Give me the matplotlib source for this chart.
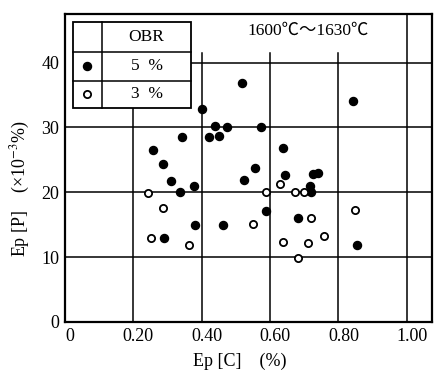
import matplotlib
matplotlib.use("Agg")
import matplotlib.pyplot as plt
from matplotlib.transforms import ScaledTranslation
from matplotlib.patches import Rectangle

plt.rcParams['font.family'] = ['Liberation Serif', 'DejaVu Serif', 'Noto Sans CJK JP']
plt.rcParams['mathtext.fontset'] = 'stix'

# OBR 5 % (filled)
c5 = [0.40, 0.438, 0.473, 0.42, 0.45, 0.342, 0.257, 0.287, 0.31, 0.378, 0.336, 0.29,
      0.381, 0.461, 0.524, 0.555, 0.517, 0.573, 0.639, 0.643, 0.725, 0.74, 0.718, 0.72,
      0.587, 0.681, 0.853, 0.842]
p5 = [32.8, 30.2, 30.0, 28.6, 28.7, 28.5, 26.6, 24.4, 21.8, 20.9, 20.1, 12.9,
      15.0, 15.0, 21.9, 23.8, 36.9, 30.0, 26.9, 22.7, 22.8, 23.0, 21.0, 20.0,
      17.1, 16.0, 11.9, 34.1]
# OBR 3 % (open)
c3 = [0.242, 0.288, 0.251, 0.362, 0.549, 0.587, 0.629, 0.672, 0.70, 0.72, 0.848,
      0.757, 0.639, 0.71, 0.683]
p3 = [19.9, 17.6, 13.0, 11.9, 15.1, 20.0, 21.3, 20.1, 20.0, 16.0, 17.3,
      13.3, 12.4, 12.2, 9.9]

xticks = [0, 0.2, 0.4, 0.6, 0.8, 1.0]
xticklabels = ['0', '0.20', '0.40', '0.60', '0.80', '1.00']
yticks = [0, 10, 20, 30, 40]
yticklabels = ['0', '10', '20', '30', '40']

fig = plt.figure(figsize=(4.34, 3.72), dpi=100)
ax = fig.add_axes([65/434, 50/372, 366.7/434, 308/372])
xmax, ymax = 1.073, 47.5
ax.set_xlim(0, xmax)
ax.set_ylim(0, ymax)

lw = 1.1
# grid lines
ax.plot([0.2, 0.2], [0, 33.0], color='black', lw=lw, zorder=1)
for xv in [0.4, 0.6, 0.8]:
    ax.plot([xv, xv], [0, 41.5], color='black', lw=lw, zorder=1)
ax.plot([1.0, 1.0], [0, ymax], color='black', lw=lw, zorder=1)
for yv in [10, 20, 30]:
    ax.plot([0, xmax], [yv, yv], color='black', lw=lw, zorder=1)
ax.plot([0.369, xmax], [40, 40], color='black', lw=lw, zorder=1)

ax.plot(c5, p5, 'o', color='black', markersize=5.8, zorder=3, linestyle='none')
ax.plot(c3, p3, 'o', markerfacecolor='white', markeredgecolor='black',
        markeredgewidth=1.3, markersize=5.2, zorder=3, linestyle='none')

# legend table
x0, x1, xm = 0.0234, 0.369, 0.108
y0, y1 = 33.0, 46.3
r1, r2 = 41.7, 37.2
ax.add_patch(Rectangle((x0, y0), x1 - x0, y1 - y0, facecolor='white',
                       edgecolor='black', lw=1.3, zorder=4))
ax.plot([xm, xm], [y0, y1], color='black', lw=1.1, zorder=5)
ax.plot([x0, x1], [r1, r1], color='black', lw=1.1, zorder=5)
ax.plot([x0, x1], [r2, r2], color='black', lw=1.1, zorder=5)
ax.text((xm + x1) / 2, (r1 + y1) / 2, 'OBR', ha='center', va='center', fontsize=12.5, zorder=6)
ax.plot([(x0 + xm) / 2], [(r2 + r1) / 2], 'o', color='black', markersize=5.8, zorder=6)
ax.text((xm + x1) / 2, (r2 + r1) / 2, '5  %', ha='center', va='center', fontsize=12.5, zorder=6)
ax.plot([(x0 + xm) / 2], [(y0 + r2) / 2], 'o', markerfacecolor='white',
        markeredgecolor='black', markeredgewidth=1.3, markersize=5.2, zorder=6)
ax.text((xm + x1) / 2, (y0 + r2) / 2, '3  %', ha='center', va='center', fontsize=12.5, zorder=6)

ax.text(0.711, 44.9, '1600℃～1630℃', ha='center', va='center', fontsize=12.5,
        family=['Liberation Serif', 'Noto Sans CJK JP', 'DejaVu Sans'])

for s in ax.spines.values():
    s.set_linewidth(1.6)

ax.set_xticks(xticks)
ax.set_xticklabels(xticklabels, fontsize=13)
ax.set_yticks(yticks)
ax.set_yticklabels(yticklabels, fontsize=13)
ax.tick_params(length=0, pad=4)
for lab in ax.get_xticklabels():
    lab.set_transform(lab.get_transform() + ScaledTranslation(5/100, 0, fig.dpi_scale_trans))

fig.text(240/434, 1 - 361/372, 'Ep [C]    (%)', ha='center', va='center', fontsize=13)
fig.text(20/434, 1 - 189/372, 'Ep [P]    (×10$^{-3}$%)', ha='center', va='center',
         rotation=90, fontsize=13)

fig.savefig('out.png', dpi=100)
